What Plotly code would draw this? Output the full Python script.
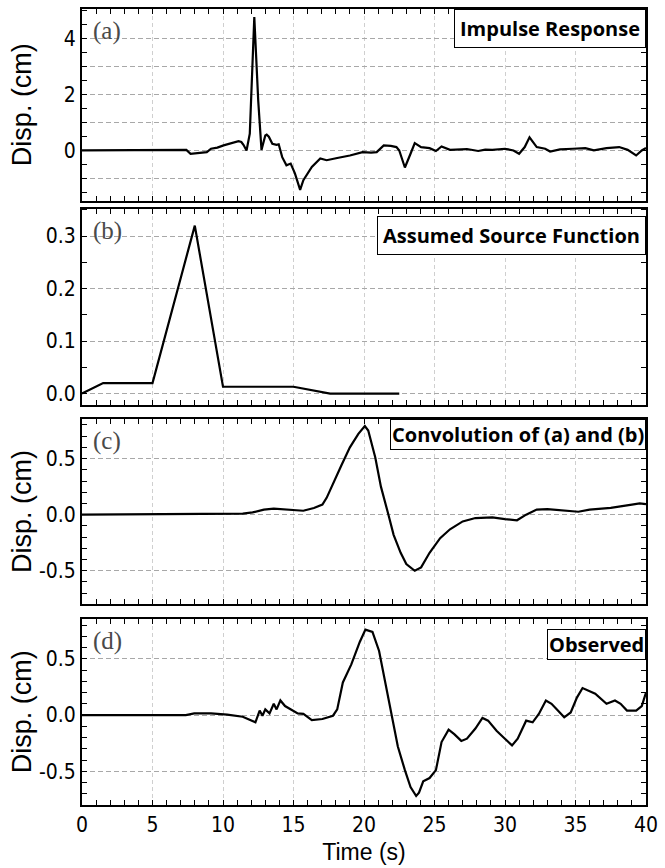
import plotly.graph_objects as go
from plotly.subplots import make_subplots

# ---------------- data ----------------
t_a = [0, 7.06, 7.4, 7.7, 8.26, 8.85, 9.15, 9.6, 10.04, 10.5, 10.9, 11.1, 11.3, 11.45, 11.67,
       11.9, 12.22, 12.5, 12.73, 13.0, 13.1, 13.25, 13.5, 13.8, 13.95, 14.2, 14.5, 14.8, 15.1,
       15.47, 15.7, 16.0, 16.3, 16.9, 17.35, 18.1, 19.0, 19.9, 20.5, 20.9, 21.4, 21.9, 22.3,
       22.5, 22.9, 23.3, 23.6, 24.05, 24.65, 25.1, 25.5, 26.1, 26.7, 27.3, 28.1, 28.6, 29.1,
       30.0, 30.6, 31.0, 31.4, 31.74, 32.25, 32.85, 33.2, 33.9, 34.8, 35.7, 36.3, 37.2, 38.1,
       38.7, 39.3, 39.7, 40.0]
v_a = [0, 0.02, 0.02, -0.12, -0.09, -0.06, 0.06, 0.1, 0.18, 0.24, 0.29, 0.33, 0.3, 0.2, 0.0,
       0.6, 4.76, 1.76, 0.02, 0.53, 0.56, 0.49, 0.24, 0.2, 0.22, -0.24, -0.53, -0.47, -0.82,
       -1.41, -1.06, -0.8, -0.59, -0.29, -0.35, -0.27, -0.18, -0.06, -0.08, -0.06, 0.18, 0.16, 0.12,
       0.0, -0.61, -0.12, 0.26, 0.12, 0.08, -0.02, 0.14, 0.02, 0.04, 0.05, -0.02, 0.03, 0.02,
       0.06, 0.0, -0.12, 0.12, 0.47, 0.12, 0.06, -0.04, 0.04, 0.06, 0.08, 0.0, 0.08, 0.12,
       0.02, -0.18, 0.0, 0.09]

t_b = [0, 1.5, 5.0, 8.0, 10.0, 15.0, 17.6, 22.5]
v_b = [0.0, 0.02, 0.02, 0.32, 0.013, 0.013, 0.0, 0.0]

t_c = [0, 7.06, 11.4, 12.1, 12.9, 13.6, 14.4, 15.1, 15.7, 16.45, 17.05, 17.35, 17.8, 18.4,
       19.0, 19.6, 20.06, 20.3, 20.8, 21.2, 21.7, 22.1, 22.6, 23.0, 23.6, 24.05, 24.65, 25.4,
       26.1, 27.0, 27.9, 29.1, 30.0, 30.85, 31.5, 32.25, 33.0, 34.2, 35.2, 36.0, 37.5, 39.0,
       39.55, 40.0]
v_c = [0, 0.006, 0.01, 0.02, 0.045, 0.053, 0.045, 0.035, 0.035, 0.06, 0.09, 0.15, 0.28, 0.44,
       0.60, 0.72, 0.79, 0.75, 0.51, 0.25, 0.015, -0.18, -0.34, -0.44, -0.5, -0.47, -0.34, -0.21,
       -0.13, -0.06, -0.03, -0.024, -0.04, -0.05, 0.0, 0.045, 0.05, 0.04, 0.026, 0.045, 0.06, 0.09,
       0.10, 0.094]

t_d = [0, 7.36, 7.96, 9.15, 10.3, 11.4, 12.3, 12.6, 12.8, 13.0, 13.3, 13.6, 13.8, 14.07, 14.4,
       14.8, 15.3, 15.7, 16.3, 17.05, 17.8, 18.1, 18.5, 19.1, 19.7, 20.1, 20.6, 21.07, 21.5,
       21.97, 22.4, 22.9, 23.3, 23.7, 23.9, 24.2, 24.65, 25.1, 25.5, 26.0, 26.4, 26.9, 27.3,
       27.9, 28.4, 28.8, 29.4, 29.9, 30.5, 30.9, 31.5, 31.96, 32.4, 32.9, 33.3, 33.75, 34.2,
       34.66, 35.1, 35.5, 36.0, 36.4, 37.2, 37.8, 38.2, 38.65, 39.3, 39.7, 40.0]
v_d = [0, 0, 0.015, 0.015, 0.003, -0.015, -0.065, 0.04, -0.006, 0.05, 0.015, 0.1, 0.05, 0.13, 0.08,
       0.05, 0.015, 0.01, -0.045, -0.035, -0.006, 0.05, 0.29, 0.45, 0.65, 0.76, 0.74, 0.57, 0.30,
       0.01, -0.28, -0.49, -0.64, -0.72, -0.69, -0.59, -0.56, -0.49, -0.24, -0.13, -0.17, -0.23, -0.21,
       -0.12, -0.026, -0.05, -0.14, -0.2, -0.27, -0.21, -0.05, -0.065, 0.01, 0.13, 0.1, 0.04, -0.02,
       0.023, 0.155, 0.24, 0.21, 0.19, 0.10, 0.13, 0.10, 0.04, 0.04, 0.08, 0.20]

x_tickvals = [0, 5, 10, 15, 20, 25, 30, 35, 40]
x_ticktext = ["0", "5", "10", "15", "20", "25", "30", "35", "40"]

ya_tickvals = [-1, 0, 1, 2, 3, 4]
ya_ticktext = ["", "0", "", "2", "", "4"]
yb_tickvals = [0.0, 0.1, 0.2, 0.3]
yb_ticktext = ["0.0", "0.1", "0.2", "0.3"]
ycd_tickvals = [-0.5, 0.0, 0.5]
ycd_ticktext = ["-0.5", "0.0", "0.5"]

panel_letters = ["(a)", "(b)", "(c)", "(d)"]
panel_titles = ["Impulse Response", "Assumed Source Function", "Convolution of (a) and (b)", "Observed"]
y_title = "Disp. (cm)"
x_title = "Time (s)"

# ---------------- figure ----------------
fig = make_subplots(rows=4, cols=1)

series = [(t_a, v_a), (t_b, v_b), (t_c, v_c), (t_d, v_d)]
for i, (tt, vv) in enumerate(series, start=1):
    fig.add_trace(go.Scatter(x=tt, y=vv, mode="lines",
                             line=dict(color="black", width=2.2),
                             showlegend=False, hoverinfo="skip"), row=i, col=1)

domains = [[0.759, 1.0], [0.503, 0.749], [0.252, 0.4845], [0.0, 0.2335]]
yranges = [[-1.8, 5.05], [-0.021, 0.352], [-0.8, 0.85], [-0.8, 0.853]]
ytv = [ya_tickvals, yb_tickvals, ycd_tickvals, ycd_tickvals]
ytt = [ya_ticktext, yb_ticktext, ycd_ticktext, ycd_ticktext]
yminor = [0.5, 0.05, 0.1, 0.1]

tickfont = dict(family="Liberation Sans Narrow, DejaVu Sans Condensed, Liberation Sans", size=21, color="black")

for i in range(4):
    xn = "xaxis" if i == 0 else f"xaxis{i+1}"
    yn = "yaxis" if i == 0 else f"yaxis{i+1}"
    fig.layout[xn].update(
        range=[0, 40], tickvals=x_tickvals, ticktext=x_ticktext,
        showticklabels=(i == 3), tickfont=tickfont,
        ticks="inside", ticklen=5, tickwidth=1, tickcolor="black",
        minor=dict(dtick=1, tick0=0, ticks="inside", ticklen=5, tickwidth=1,
                   tickcolor="black", showgrid=False),
        showline=True, linecolor="black", linewidth=2, mirror="allticks",
        showgrid=True, gridcolor="#cfcfcf", gridwidth=1, griddash="4px,3px",
        zeroline=False,
    )
    fig.layout[yn].update(
        domain=domains[i], range=yranges[i],
        tickvals=ytv[i], ticktext=ytt[i], tickfont=tickfont,
        ticks="inside", ticklen=5, tickwidth=1, tickcolor="black",
        minor=dict(dtick=yminor[i], tick0=0, ticks="inside", ticklen=5, tickwidth=1,
                   tickcolor="black", showgrid=False),
        showline=True, linecolor="black", linewidth=2, mirror="allticks",
        showgrid=True, gridcolor="#a8a8a8", gridwidth=1, griddash="5px,3px",
        zeroline=False,
    )

fig.layout.xaxis4.title = dict(text=x_title, font=dict(family="Liberation Sans", size=23, color="black"),
                               standoff=8)

# panel annotations
pads = [5, 5, 1, 1]
yshifts = [0, -7, 0, -10]
for i in range(4):
    xr = "x domain" if i == 0 else f"x{i+1} domain"
    yr = "y domain" if i == 0 else f"y{i+1} domain"
    fig.add_annotation(xref=xr, yref=yr, x=1, y=1, xanchor="right", yanchor="top",
                       text=panel_titles[i], showarrow=False, yshift=yshifts[i],
                       font=dict(family="Open Sans", size=20, color="black", weight="bold"),
                       bgcolor="white", bordercolor="black", borderwidth=1, borderpad=pads[i])
    fig.add_annotation(xref=xr, yref=yr, x=0, y=1, xanchor="left", yanchor="middle",
                       text=panel_letters[i], showarrow=False, xshift=9, yshift=-22,
                       font=dict(family="Liberation Serif", size=25, color="#4a4a4a"))
    if i != 1:
        fig.add_annotation(xref="paper", yref=yr, x=-0.106, y=0.5, xanchor="center", yanchor="middle",
                           text=y_title, textangle=-90, showarrow=False,
                           font=dict(family="Liberation Sans", size=27, color="black"))

fig.update_layout(
    width=665, height=868,
    margin=dict(l=82, r=15, t=7, b=56),
    paper_bgcolor="white", plot_bgcolor="white",
    font=dict(family="Liberation Sans", color="black"),
)

fig.write_html("out.html", config={"displayModeBar": False},
               post_script="document.body.style.margin='0';")
